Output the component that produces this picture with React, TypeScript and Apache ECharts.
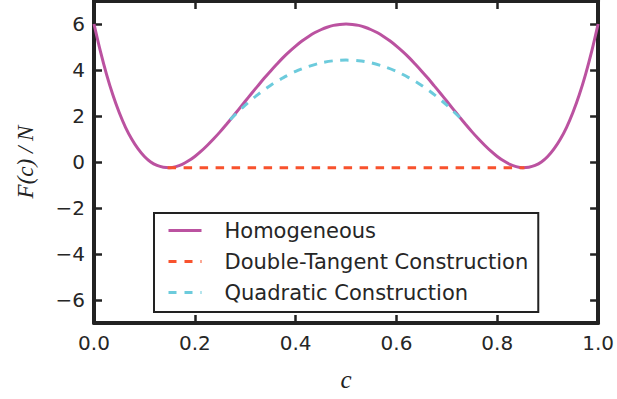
import React, { useEffect, useRef } from "react";
import * as echarts from "echarts";

// Concentration c and homogeneous free energy F(c)/N
const homogeneousC = [
  0, 0.0125, 0.025, 0.0375, 0.05, 0.0625, 0.075, 0.0875, 0.1, 0.1125, 0.125, 0.1375, 0.15, 0.1625,
  0.175, 0.1875, 0.2, 0.2125, 0.225, 0.2375, 0.25, 0.2625, 0.275, 0.2875, 0.3, 0.3125, 0.325,
  0.3375, 0.35, 0.3625, 0.375, 0.3875, 0.4, 0.4125, 0.425, 0.4375, 0.45, 0.4625, 0.475, 0.4875, 0.5,
  0.5125, 0.525, 0.5375, 0.55, 0.5625, 0.575, 0.5875, 0.6, 0.6125, 0.625, 0.6375, 0.65, 0.6625,
  0.675, 0.6875, 0.7, 0.7125, 0.725, 0.7375, 0.75, 0.7625, 0.775, 0.7875, 0.8, 0.8125, 0.825,
  0.8375, 0.85, 0.8625, 0.875, 0.8875, 0.9, 0.9125, 0.925, 0.9375, 0.95, 0.9625, 0.975, 0.9875, 1,
];
const homogeneousF = [
  6.0, 4.83, 3.8, 2.91, 2.15, 1.51, 0.99, 0.57, 0.24, 0.0, -0.15, -0.23, -0.25, -0.2,
  -0.1, 0.05, 0.24, 0.47, 0.73, 1.01, 1.31, 1.63, 1.96, 2.3, 2.64, 2.98, 3.31,
  3.64, 3.95, 4.25, 4.54, 4.8, 5.04, 5.26, 5.45, 5.62, 5.75, 5.86, 5.94, 5.98, 6.0,
  5.98, 5.94, 5.86, 5.75, 5.62, 5.45, 5.26, 5.04, 4.8, 4.54, 4.25, 3.95, 3.64,
  3.31, 2.98, 2.64, 2.3, 1.96, 1.63, 1.31, 1.01, 0.73, 0.47, 0.24, 0.05, -0.1,
  -0.2, -0.25, -0.23, -0.15, 0.0, 0.24, 0.57, 0.99, 1.51, 2.15, 2.91, 3.8, 4.83, 6.0,
];

// Double-tangent construction (horizontal line between the two minima)
const tangentC = [0.146, 0.854];
const tangentF = [-0.25, -0.25];

// Quadratic construction
const quadraticC = [
  0.27, 0.3, 0.325, 0.35, 0.375, 0.4, 0.425, 0.45, 0.475, 0.5,
  0.525, 0.55, 0.575, 0.6, 0.625, 0.65, 0.675, 0.7, 0.73,
];
const quadraticF = [
  1.84, 2.47, 2.93, 3.33, 3.66, 3.94, 4.15, 4.31, 4.4, 4.43,
  4.4, 4.31, 4.15, 3.94, 3.66, 3.33, 2.93, 2.47, 1.84,
];

const xTicks = [0, 0.2, 0.4, 0.6, 0.8, 1.0];
const yTicks = [-6, -4, -2, 0, 2, 4, 6];
const seriesNames = ["Homogeneous", "Double-Tangent Construction", "Quadratic Construction"];
const seriesColors = ["#bb52a0", "#f8522d", "#6ccbdc"];

const pairs = (xs: number[], ys: number[]) => xs.map((x, i) => [x, ys[i]]);

export default function App() {
  const ref = useRef<HTMLDivElement>(null);
  useEffect(() => {
    document.body.style.margin = "0";
    const chart = echarts.init(ref.current!, undefined, { renderer: "svg" });
    const ink = "#222222";
    const dash = [8.5, 7.5];
    const axisLine = { show: true, onZero: false, lineStyle: { color: ink, width: 4 } };
    const tickStyle = { show: true, inside: true, length: 8, lineStyle: { color: ink, width: 2.5 } };
    const labelStyle = { color: "#262626", fontSize: 20, fontFamily: "DejaVu Sans" };
    chart.setOption({
      animation: false,
      backgroundColor: "#ffffff",
      grid: { left: 94, right: 18, top: 1, bottom: 76 },
      xAxis: [
        {
          type: "value",
          position: "bottom",
          min: 0,
          max: 1,
          axisLine,
          splitLine: { show: false },
          axisTick: { ...tickStyle, customValues: xTicks },
          axisLabel: {
            ...labelStyle,
            margin: 10,
            customValues: xTicks,
            formatter: (v: number) => v.toFixed(1),
          },
        },
        {
          type: "value",
          position: "top",
          min: 0,
          max: 1,
          axisLine,
          splitLine: { show: false },
          axisTick: { ...tickStyle, customValues: xTicks },
          axisLabel: { show: false },
        },
      ],
      yAxis: [
        {
          type: "value",
          position: "left",
          min: -7,
          max: 7,
          axisLine,
          splitLine: { show: false },
          axisTick: { ...tickStyle, customValues: yTicks },
          axisLabel: {
            ...labelStyle,
            margin: 9,
            customValues: yTicks,
            formatter: (v: number) => (v < 0 ? "\u2212" + Math.abs(v) : String(v)),
          },
        },
        {
          type: "value",
          position: "right",
          min: -7,
          max: 7,
          axisLine,
          splitLine: { show: false },
          axisTick: { ...tickStyle, customValues: yTicks },
          axisLabel: { show: false },
        },
      ],
      legend: {
        orient: "vertical",
        left: 154,
        top: 213,
        data: [
          { name: seriesNames[0], lineStyle: { color: seriesColors[0], width: 3, type: "solid" } },
          { name: seriesNames[1], lineStyle: { color: seriesColors[1], width: 3, type: [8, 8] } },
          { name: seriesNames[2], lineStyle: { color: seriesColors[2], width: 3, type: [8, 8] } },
        ],
        backgroundColor: "#ffffff",
        borderColor: ink,
        borderWidth: 2,
        borderRadius: 0,
        padding: [7, 10, 9, 13],
        itemGap: 10,
        itemWidth: 33,
        itemHeight: 14,
        itemStyle: { opacity: 0 },
        textStyle: {
          color: "#262626",
          fontSize: 21,
          fontFamily: "DejaVu Sans",
          lineHeight: 21,
          padding: [0, 0, 0, 18],
        },
      },
      series: [
        {
          name: seriesNames[0],
          type: "line",
          data: pairs(homogeneousC, homogeneousF),
          smooth: 0.3,
          showSymbol: false,
          symbol: "none",
          lineStyle: { color: seriesColors[0], width: 3 },
          itemStyle: { color: seriesColors[0] },
        },
        {
          name: seriesNames[1],
          type: "line",
          data: pairs(tangentC, tangentF),
          showSymbol: false,
          symbol: "none",
          lineStyle: { color: seriesColors[1], width: 3, type: dash },
          itemStyle: { color: seriesColors[1] },
        },
        {
          name: seriesNames[2],
          type: "line",
          data: pairs(quadraticC, quadraticF),
          smooth: 0.3,
          showSymbol: false,
          symbol: "none",
          lineStyle: { color: seriesColors[2], width: 3, type: dash },
          itemStyle: { color: seriesColors[2] },
        },
      ],
      graphic: [
        {
          type: "text",
          x: 25,
          y: 162,
          rotation: Math.PI / 2,
          style: {
            text: "F(c) / N",
            font: 'italic 23px "Liberation Serif"',
            textAlign: "center",
            textVerticalAlign: "middle",
            fill: "#222222",
          },
        },
        {
          type: "text",
          x: 346,
          y: 379,
          style: {
            text: "c",
            font: 'italic 25px "Liberation Serif"',
            textAlign: "center",
            textVerticalAlign: "middle",
            fill: "#222222",
          },
        },
      ],
    });
    return () => chart.dispose();
  }, []);
  return (
    <div
      ref={ref}
      style={{ position: "fixed", left: 0, top: 0, width: 617, height: 399 }}
    />
  );
}
